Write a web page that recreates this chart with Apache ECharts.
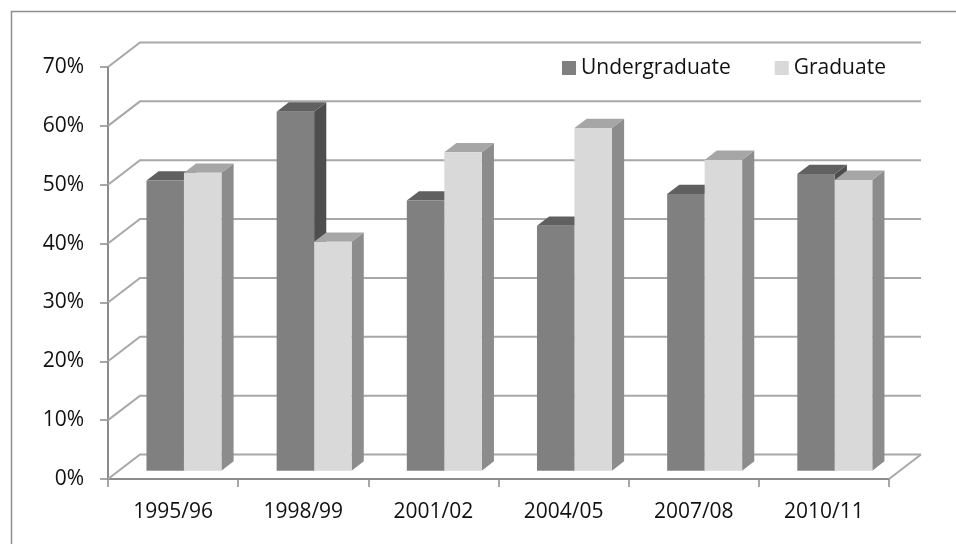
<!DOCTYPE html>
<html>
<head>
<meta charset="utf-8">
<script src="https://cdn.jsdelivr.net/npm/echarts@6/dist/echarts.min.js"></script>
<style>
html,body{margin:0;padding:0;background:#fff;}
#chart{width:956px;height:544px;}
</style>
</head>
<body>
<div id="chart"></div>
<script>
const categories = ['1995/96', '1998/99', '2001/02', '2004/05', '2007/08', '2010/11'];
const undergraduate = [49.3, 61.0, 45.9, 41.6, 47.0, 50.4];
const graduate = [50.6, 38.9, 54.1, 58.2, 52.8, 49.4];
const yTicks = [0, 10, 20, 30, 40, 50, 60, 70];
const seriesNames = ['Undergraduate', 'Graduate'];

// depth projection (style constants)
const DX = 32, DY = -24.5;
const F0 = 0.34, FD = 0.38;     // bar front depth fraction, bar depth fraction
const BAR_FRAC = 0.288;          // bar width as fraction of category band
const FONT = '"Open Sans", "DejaVu Sans", sans-serif';
const TEXT = '#111111';
const GRID_C = '#a8a8a8';

const faces = [
  { front: '#808080', top: '#606060', side: '#4e4e4e' },
  { front: '#d9d9d9', top: '#a6a6a6', side: '#8c8c8c' }
];

function wallRender(params, api) {
  const cs = params.coordSys;
  const v = api.value(1);
  const y = api.coord([0, v])[1];
  const x0 = cs.x, x1 = cs.x + cs.width;
  const pts = [[x0, y], [x0 + DX, y + DY], [x1 + DX, y + DY]];
  const children = [{
    type: 'polyline',
    shape: { points: pts },
    style: { stroke: GRID_C, lineWidth: 2, fill: null }
  }];
  if (v === 0) {
    children.push({
      type: 'polyline',
      shape: { points: [[x1, y], [x1 + DX, y + DY]] },
      style: { stroke: GRID_C, lineWidth: 2, fill: null }
    });
  }
  return { type: 'group', children: children };
}

function makeBarRender(si) {
  return function (params, api) {
    const i = api.value(0);
    const val = api.value(1);
    const cx = api.coord([i, 0])[0];
    const yb0 = api.coord([i, 0])[1];
    const yt0 = api.coord([i, val])[1];
    const band = api.size([1, 0])[0];
    const bw = band * BAR_FRAC;
    const sx = F0 * DX, sy = F0 * DY;
    const bdx = FD * DX, bdy = FD * DY;
    const xl = cx + (si === 0 ? -bw : 0) + sx;
    const xr = xl + bw;
    const yb = yb0 + sy, yt = yt0 + sy;
    const f = faces[si];
    return {
      type: 'group',
      children: [
        { type: 'polygon', shape: { points: [[xr, yt], [xr + bdx, yt + bdy], [xr + bdx, yb + bdy], [xr, yb]] },
          style: { fill: f.side } },
        { type: 'polygon', shape: { points: [[xl, yt], [xr, yt], [xr + bdx, yt + bdy], [xl + bdx, yt + bdy]] },
          style: { fill: f.top } },
        { type: 'rect', shape: { x: xl, y: yt, width: bw, height: yb - yt },
          style: { fill: f.front } }
      ]
    };
  };
}

const chart = echarts.init(document.getElementById('chart'), null, { renderer: 'canvas' });
chart.setOption({
  animation: false,
  backgroundColor: '#ffffff',
  graphic: [{
    type: 'rect', left: 9, top: 9, z: -10,
    shape: { x: 0, y: 0, width: 1200, height: 800 },
    style: { fill: null, stroke: '#8f8f8f', lineWidth: 1.5 }
  }],
  grid: { left: 108, right: 67, top: 67, bottom: 65, containLabel: false },
  legend: {
    data: seriesNames,
    left: 562, top: 57, padding: 0,
    icon: 'rect', itemWidth: 14, itemHeight: 14, itemGap: 44,
    textStyle: { fontFamily: FONT, fontSize: 21, color: TEXT, lineHeight: 22 }
  },
  xAxis: {
    type: 'category',
    data: categories,
    axisLine: { lineStyle: { color: '#8c8c8c', width: 2 } },
    axisTick: { show: true, length: 8, lineStyle: { color: '#8c8c8c', width: 1.5 } },
    axisLabel: { fontFamily: FONT, fontSize: 21, color: TEXT, margin: 23 },
    splitLine: { show: false }
  },
  yAxis: {
    type: 'value',
    min: 0, max: 70, interval: 10,
    axisLine: { show: true, lineStyle: { color: '#8c8c8c', width: 2 } },
    axisTick: { show: true, length: 8, lineStyle: { color: '#8c8c8c', width: 1.5 } },
    axisLabel: { formatter: '{value}%', fontFamily: FONT, fontSize: 21, color: TEXT, margin: 24 },
    splitLine: { show: false }
  },
  series: [
    {
      name: '_walls', type: 'custom', silent: true, z: 1,
      renderItem: wallRender,
      data: yTicks.map(v => [0, v])
    },
    {
      name: seriesNames[0], type: 'custom', z: 3,
      itemStyle: { color: faces[0].front },
      renderItem: makeBarRender(0),
      encode: { x: 0, y: 1 },
      data: undergraduate.map((v, i) => [i, v])
    },
    {
      name: seriesNames[1], type: 'custom', z: 4,
      itemStyle: { color: faces[1].front },
      renderItem: makeBarRender(1),
      encode: { x: 0, y: 1 },
      data: graduate.map((v, i) => [i, v])
    }
  ]
});
</script>
</body>
</html>
